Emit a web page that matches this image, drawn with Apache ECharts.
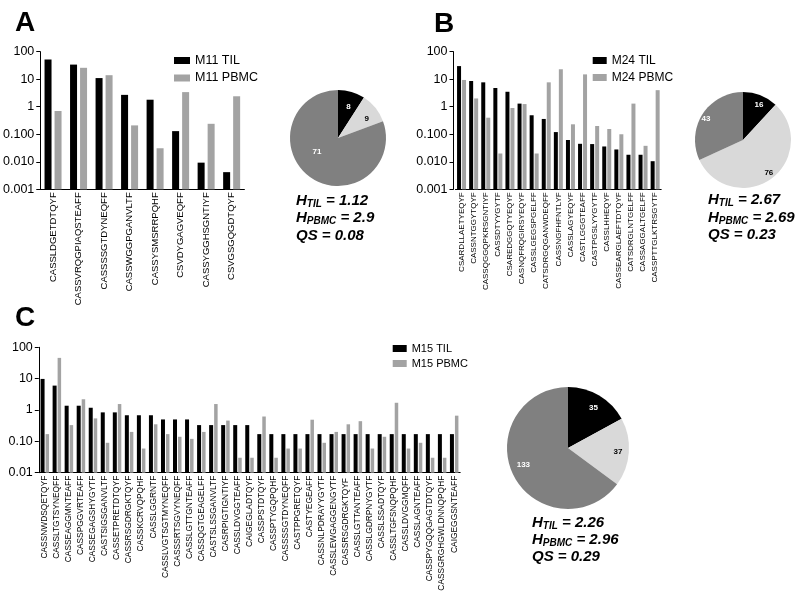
<!DOCTYPE html>
<html><head><meta charset="utf-8">
<script src="https://cdn.jsdelivr.net/npm/echarts@6/dist/echarts.min.js"></script>
<style>html,body{margin:0;padding:0;background:#fff}#c{width:800px;height:606px}</style>
</head><body><div id="c"></div>
<script>
// ---------- DATA ----------
const catA = ['CASSLDGETDTQYF','CASSVRQGPIAQSTEAFF','CASSSSGTDYNEQFF','CASSWGGPGANVLTF','CASSYSMSRRPQHF','CSVDYGAGVEQFF','CASSYGGHSGNTIYF','CSVGSGQGDTQYF'];
const tilA = [52, 34, 11, 2.7, 1.8, 0.13, 0.0093, 0.0042];
const pbmcA = [0.7, 26, 14, 0.21, 0.031, 3.4, 0.24, 2.4];
const ticksA = ['0.001','0.010','0.100','1','10','100'];
const pieA = [8, 9, 71];
const statsA = ['1.12','2.9','0.08'];

const catB = ['CSARDLLAETYEQYF','CASSNTGGYTQYF','CASSQGGQPKRSGNTIYF','CASSDTYYGYTF','CSAREDGGQTYEQYF','CASNQFRQGIRSYEQYF','CASSLGEGSPGELFF','CATSDRGQGANWDEQFF','CASSNGFHFNTLYF','CASSLAGYEQYF','CASTLGGGTEAFF','CASTPGSLYYGYTF','CASSLHHEQYF','CASSEARGLAEFTDTQYF','CATSDRGLNTGELFF','CASSAGGALTGELFF','CASSPTTGLKTRSGYTF'];
const tilB = [30, 8.6, 7.7, 4.8, 3.5, 1.3, 0.49, 0.36, 0.12, 0.062, 0.045, 0.044, 0.036, 0.028, 0.018, 0.018, 0.0105];
const pbmcB = [9.4, 2.0, 0.40, 0.020, 0.9, 1.25, 0.020, 7.7, 23, 0.23, 15, 0.2, 0.155, 0.1, 1.3, 0.038, 4.0];
const ticksB = ['0.001','0.010','0.100','1','10','100'];
const pieB = [16, 76, 43];
const statsB = ['2.67','2.69','0.23'];

const catC = ['CASSNWDSQETQYF','CASSLTGTSYNEQFF','CASSEAGGMNTEAFF','CASSPGGVRTEAFF','CASSEGAGSHYGYTF','CASTSIGSGANVLTF','CASSETPRETDTQYF','CASSRSGDRGKTQYF','CASSKCRVQPQHF','CASSLGGRNTF','CASSLVGTSGTMYNEQFF','CASSSRTSGVYNEQFF','CASSLGTTGNTEAFF','CASSQGTGEAGELFF','CASTSLSSGANVLTF','CASRPIGTIGNTIYF','CASSLDVGGTEAFF','CAIGEGLADTQYF','CASSPSTDTQYF','CASSPTYGQPQHF','CASSSSGTDYNEQFF','CASTPPGRETQYF','CASTYEGEAFF','CASSNLPDRAYYGYTF','CASSLEWGAGGENGYTF','CASSRSGDRGKTQYF ','CASSLGTTANTEAFF','CASSLGDRPNYGYTF','CASSLSSADTQYF','CASSLTGFSNQPQHF','CASSLDVGGMQFF','CASSLAGNTEAFF','CASSPYGQQGAGTDTQYF','CASSGRGHGWLDNNQPQHF','CAIGEGGSNTEAFF'];
const tilC = [9.8, 6.0, 1.37, 1.37, 1.18, 0.84, 0.84, 0.68, 0.68, 0.68, 0.5, 0.5, 0.5, 0.33, 0.33, 0.33, 0.33, 0.33, 0.17, 0.17, 0.17, 0.17, 0.17, 0.17, 0.17, 0.17, 0.17, 0.17, 0.17, 0.17, 0.17, 0.17, 0.17, 0.17, 0.17];
const pbmcC = [0.17, 46, 0.33, 2.2, 0.54, 0.09, 1.55, 0.2, 0.059, 0.35, 0.17, 0.14, 0.12, 0.2, 1.55, 0.46, 0.03, 0.03, 0.62, 0.03, 0.059, 0.059, 0.49, 0.09, 0.2, 0.35, 0.44, 0.059, 0.14, 1.7, 0.059, 0.09, 0.03, 0.03, 0.66];
const ticksC = ['0.01','0.10','1','10','100'];
const pieC = [35, 37, 133];
const statsC = ['2.26','2.96','0.29'];

// ---------- STYLE ----------
const FONT = 'Arial, "Liberation Sans", sans-serif';
const BLACK = '#000000', GRAY = '#a3a3a3', PIE_LIGHT = '#d9d9d9', PIE_DARK = '#808080';

function logLabel(ticks, minExp) {
  return v => ticks[Math.round(Math.log10(v)) - minExp] || '';
}
function xAxisCfg(idx, data, fs) {
  return {
    type: 'category', gridIndex: idx, data: data,
    axisLine: {lineStyle: {color: '#000', width: 1}},
    axisTick: {alignWithLabel: true, length: 3, lineStyle: {color: '#000'}},
    axisLabel: {rotate: 90, interval: 0, fontSize: fs, color: '#000', fontFamily: FONT, margin: 3}
  };
}
function yAxisCfg(idx, min, ticks, minExp, offset) {
  return {
    type: 'log', logBase: 10, gridIndex: idx, min: min, max: 100, startValue: min, offset: offset || 0,
    axisLine: {show: true, lineStyle: {color: '#000', width: 1}},
    axisTick: {show: true, length: 4, lineStyle: {color: '#000'}},
    minorTick: {show: false},
    splitLine: {show: false},
    axisLabel: {fontSize: 12.5, color: '#000', fontFamily: FONT, margin: 6, formatter: logLabel(ticks, minExp)}
  };
}
function barSeries(name, idx, data, color, w, gap) {
  return {type: 'bar', name: name, xAxisIndex: idx, yAxisIndex: idx, data: data,
    barWidth: w, barGap: gap, itemStyle: {color: color}, silent: true, animation: false};
}
// shifts: vertical nudge of each slice label (px, + = down)
function pieSeries(center, r, data, labelR, shifts) {
  const cols = [BLACK, PIE_LIGHT, PIE_DARK];
  const lc = ['#fff', '#000', '#fff'];
  return [{
    type: 'pie', center: center, radius: [0, r], startAngle: 90, clockwise: true, silent: true, animation: false,
    label: {show: false}, labelLine: {show: false},
    itemStyle: {borderWidth: 0},
    data: data.map((v, i) => ({value: v, itemStyle: {color: cols[i]}}))
  }, {
    type: 'pie', center: center, radius: [0, 2 * labelR], startAngle: 90, clockwise: true, silent: true, animation: false,
    z: 5,
    label: {show: true, position: 'inside', fontSize: 8, fontWeight: 'bold', fontFamily: FONT},
    labelLine: {show: false},
    itemStyle: {color: 'rgba(0,0,0,0)', borderWidth: 0},
    data: data.map((v, i) => {
      const s = shifts[i] || 0;
      const lab = {color: lc[i]};
      if (s > 0) { lab.formatter = '\n{c}'; lab.lineHeight = 2 * s; }
      else if (s < 0) { lab.formatter = '{c}\n'; lab.lineHeight = -2 * s; }
      else { lab.formatter = '{c}'; }
      return {value: v, label: lab};
    })
  }];
}
const rich = {
  b: {fontSize: 15, fontWeight: 'bold', fontStyle: 'italic', fontFamily: FONT, color: '#000', lineHeight: 16},
  s: {fontSize: 10, fontWeight: 'bold', fontStyle: 'italic', fontFamily: FONT, color: '#000', lineHeight: 10, padding: [6, 0, 0, 0]}
};
function stats(left, tops, vals) {
  return [
    {left: left, top: tops[0], padding: 0, text: '{b|H}{s|TIL}{b| = ' + vals[0] + '}', textStyle: {rich: rich}},
    {left: left, top: tops[1], padding: 0, text: '{b|H}{s|PBMC}{b| = ' + vals[1] + '}', textStyle: {rich: rich}},
    {left: left, top: tops[2], padding: 0, text: '{b|QS = ' + vals[2] + '}', textStyle: {rich: rich}}
  ];
}
function letter(t, left, top) {
  return {left: left, top: top, padding: 0, text: t, textStyle: {fontSize: 28, fontWeight: 'bold', fontFamily: FONT, color: '#000'}};
}
function legend(names, left, top, fs, gap, iw) {
  return {data: names, orient: 'vertical', left: left, top: top, padding: 0, itemGap: gap,
    itemWidth: iw, itemHeight: 7, icon: 'rect', selectedMode: false,
    textStyle: {fontSize: fs, color: '#000', fontFamily: FONT}};
}

const option = {
  animation: false,
  backgroundColor: '#fff',
  grid: [
    {left: 38, top: 51.7, width: 206.4, height: 137.6},
    {left: 455.5, top: 51.7, width: 205.7, height: 137.6},
    {left: 38.8, top: 347.3, width: 421.4, height: 125.4}
  ],
  xAxis: [xAxisCfg(0, catA, 9.5), xAxisCfg(1, catB, 8), xAxisCfg(2, catC, 8.4)],
  yAxis: [yAxisCfg(0, 0.001, ticksA, -3, 0), yAxisCfg(1, 0.001, ticksB, -3, 2), yAxisCfg(2, 0.01, ticksC, -2, 0)],
  legend: [
    legend(['M11 TIL', 'M11 PBMC'], 174, 54, 12.5, 4.5, 16),
    legend(['M24 TIL', 'M24 PBMC'], 592.7, 54.5, 12, 5, 14),
    legend(['M15 TIL', 'M15 PBMC'], 392.7, 343, 11, 4, 14)
  ],
  title: [
    letter('A', 15, 9), letter('B', 434, 10), letter('C', 15, 304),
    ...stats(296, [193, 210, 228], statsA),
    ...stats(708, [192, 210, 227], statsB),
    ...stats(532, [515, 532, 549], statsC)
  ],
  series: [
    barSeries('M11 TIL', 0, tilA, BLACK, 7, '43%'),
    barSeries('M11 PBMC', 0, pbmcA, GRAY, 7, '43%'),
    barSeries('M24 TIL', 1, tilB, BLACK, 4, '25%'),
    barSeries('M24 PBMC', 1, pbmcB, GRAY, 4, '25%'),
    barSeries('M15 TIL', 2, tilC, BLACK, 4, '25%'),
    barSeries('M15 PBMC', 2, pbmcC, GRAY, 3.5, '25%'),
    ...pieSeries([338, 138], 48, pieA, 34, [4, 4, -17]),
    ...pieSeries([743, 140], 48, pieB, 41, [6, -3, 3]),
    ...pieSeries([568, 448], 61, pieC, 47, [3, 0, -6])
  ]
};
const chart = echarts.init(document.getElementById('c'), null, {renderer: 'canvas'});
chart.setOption(option);
</script></body></html>
